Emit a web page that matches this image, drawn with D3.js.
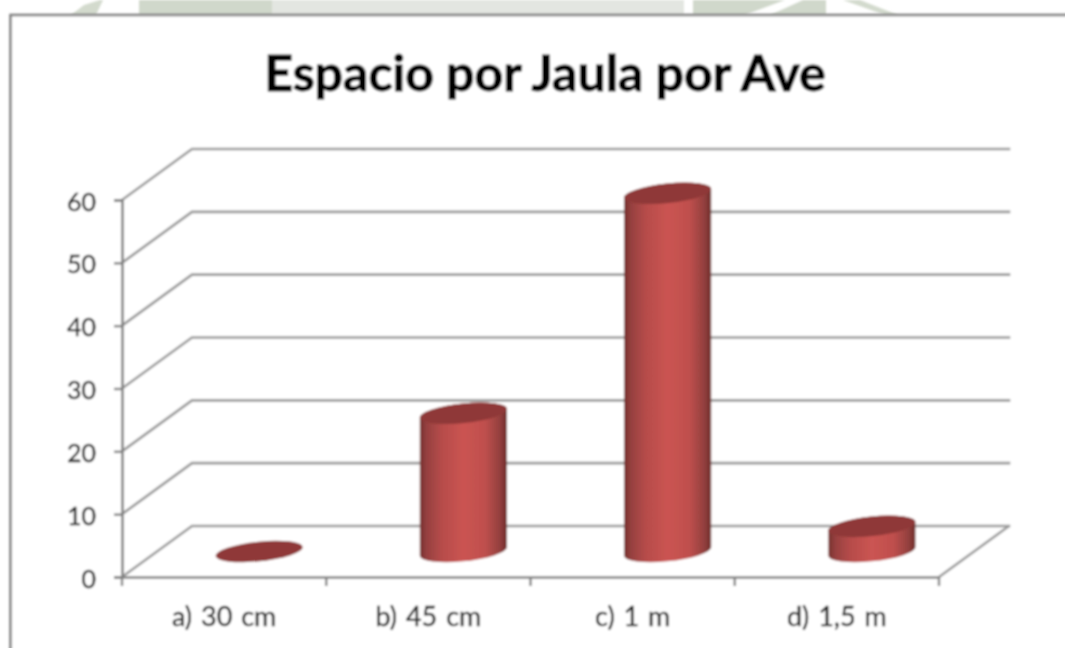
<!DOCTYPE html>
<html>
<head>
<meta charset="utf-8">
<script src="https://cdn.jsdelivr.net/npm/d3@7"></script>
<style>
  html, body { margin: 0; padding: 0; background: #fff; overflow: hidden; }
  svg { display: block; }
  text { font-family: Lato, "Open Sans", sans-serif; }
</style>
</head>
<body>
<div id="chart"></div>
<script>
const categories = ["a) 30 cm", "b) 45 cm", "c) 1 m", "d) 1,5 m"];
const values = [0, 22, 57, 4];
const yTicks = [0, 10, 20, 30, 40, 50, 60];
const title = "Espacio por Jaula por Ave";

const width = 1065;
const height = 648;

// plot front plane, and how far the back wall is shifted from it
const left = 122, right = 939, bottom = 577, top_ = 200;
const depthX = 70, depthY = -51;

const xScale = d3.scaleBand().domain(categories).range([left, right]);
const yScale = d3.scaleLinear().domain([0, 60]).range([bottom, top_]);

const svg = d3.select("#chart").append("svg")
    .attr("width", width).attr("height", height)
    .attr("viewBox", "0 0 " + width + " " + height);

const defs = svg.append("defs");

// the reference is a soft scan, everything is slightly out of focus
defs.append("filter").attr("id", "soft")
    .attr("filterUnits", "userSpaceOnUse")
    .attr("x", 0).attr("y", 0).attr("width", width).attr("height", height)
    .append("feGaussianBlur").attr("stdDeviation", 0.85);

const grad = defs.append("linearGradient").attr("id", "cyl")
    .attr("x1", 0).attr("x2", 1).attr("y1", 0).attr("y2", 0);
grad.append("stop").attr("offset", "0%").attr("stop-color", "#75302d");
grad.append("stop").attr("offset", "8%").attr("stop-color", "#964040");
grad.append("stop").attr("offset", "25%").attr("stop-color", "#b64c4a");
grad.append("stop").attr("offset", "50%").attr("stop-color", "#cb5452");
grad.append("stop").attr("offset", "75%").attr("stop-color", "#bf4f4d");
grad.append("stop").attr("offset", "92%").attr("stop-color", "#93403e");
grad.append("stop").attr("offset", "100%").attr("stop-color", "#6e2c2a");

// watermark showing above the chart frame
const wm = svg.append("g").attr("filter", "url(#soft)");
wm.append("path").attr("fill", "#d3dacd").attr("d", "M71,15 L84,5 L100,0 L103,0 L96,15 Z");
wm.append("rect").attr("x", 139).attr("y", 0).attr("width", 133).attr("height", 15).attr("fill", "#d0d8cb");
wm.append("rect").attr("x", 272).attr("y", 0).attr("width", 412).attr("height", 15).attr("fill", "#e3e6e1");
wm.append("rect").attr("x", 693).attr("y", 0).attr("width", 133).attr("height", 15).attr("fill", "#d0d8cb");
wm.append("path").attr("fill", "#fff").attr("d", "M745,15 L785,0 L803,0 L770,15 Z");
wm.append("path").attr("fill", "#d3dacd").attr("d", "M843,0 L860,0 L898,15 L885,15 Z");

const chart = svg.append("g").attr("filter", "url(#soft)");

// chart frame runs off the right and bottom of the picture
chart.append("rect").attr("x", 10.5).attr("y", 15).attr("width", width).attr("height", height)
    .attr("fill", "#fff").attr("stroke", "#808080").attr("stroke-width", 2.6);

// gridlines: diagonal on the side wall, then flat on the back wall
const gridLine = d3.line();
chart.append("g").selectAll("path")
    .data(yTicks)
    .enter()
    .append("path")
    .attr("fill", "none")
    .attr("stroke", "#999")
    .attr("stroke-width", 2.6)
    .attr("stroke-linecap", "square")
    .attr("d", (d) => gridLine([
        [left, yScale(d)],
        [left + depthX, yScale(d) + depthY],
        [right + depthX, yScale(d) + depthY]
    ]));

// floor right edge
chart.append("path").attr("fill", "none").attr("stroke", "#999").attr("stroke-width", 2.6)
    .attr("d", gridLine([
        [right, yScale(0)],
        [right + depthX, yScale(0) + depthY]
    ]));

// axes
const yAxis = d3.axisLeft(yScale).tickValues(yTicks).tickSize(8).tickPadding(18);
const xAxis = d3.axisBottom(xScale).tickSize(0).tickPadding(30);

const yG = chart.append("g").attr("transform", "translate(" + left + ",0)").call(yAxis);
const xG = chart.append("g").attr("transform", "translate(0," + bottom + ")").call(xAxis);

// x ticks sit on the category boundaries
const edges = categories.map((c) => xScale(c)).concat([right]);
xG.selectAll("line.edge")
    .data(edges)
    .enter()
    .append("line")
    .attr("class", "edge")
    .attr("x1", (d) => d).attr("x2", (d) => d)
    .attr("y1", 0).attr("y2", 9);

[yG, xG].forEach((g) => {
    g.selectAll("path.domain").attr("stroke", "#808080").attr("stroke-width", 2.6);
    g.selectAll("line").attr("stroke", "#808080").attr("stroke-width", 2.4);
    g.selectAll("text").attr("font-family", "Lato, sans-serif")
        .attr("fill", "#222").attr("stroke", "#222").attr("stroke-width", 0.35);
});
yG.selectAll("text").attr("font-size", 25).attr("dy", "0.4em");
xG.selectAll("text").attr("font-size", 27).attr("word-spacing", 2);

// cylinders: tilted ellipse for the top and the base, vertical sides between
const rx = 43.8, ry = 9.8, tilt = -6;
const rad = tilt * Math.PI / 180;
const halfW = Math.sqrt(rx * rx * Math.cos(rad) ** 2 + ry * ry * Math.sin(rad) ** 2);
// y offset of the point of the ellipse furthest to the right
const sideDy = (rx * rx - ry * ry) * Math.sin(rad) * Math.cos(rad) / halfW;

const cx = (d) => xScale(d.cat) + xScale.bandwidth() / 2 + depthX / 2;
const baseY = yScale(0) + depthY / 2;
const topY = (d) => yScale(d.val) + depthY / 2;

const arc = (x, y, sweep) => "A" + rx + "," + ry + " " + tilt + " 0 " + sweep + " " + x + "," + y;

const rows = categories.map((c, i) => ({ cat: c, val: values[i] }));

const bars = chart.append("g").selectAll("g")
    .data(rows)
    .enter()
    .append("g");

bars.filter((d) => d.val > 0)
    .append("path")
    .attr("fill", "url(#cyl)")
    .attr("d", (d) => {
        const c = cx(d);
        return "M" + (c - halfW) + "," + (topY(d) - sideDy) +
            "L" + (c - halfW) + "," + (baseY - sideDy) +
            arc(c + halfW, baseY + sideDy, 0) +
            "L" + (c + halfW) + "," + (topY(d) + sideDy) +
            arc(c - halfW, topY(d) - sideDy, 0) + "Z";
    });

bars.append("ellipse")
    .attr("rx", rx).attr("ry", ry)
    .attr("fill", "#8f3937")
    .attr("transform", (d) => "translate(" + cx(d) + "," + topY(d) + ") rotate(" + tilt + ")");

// title
chart.append("text")
    .attr("x", 545).attr("y", 91)
    .attr("text-anchor", "middle")
    .attr("font-size", 50)
    .attr("font-weight", 700)
    .attr("fill", "#000")
    .attr("stroke", "#000")
    .attr("stroke-width", 0.9)
    .text(title);
</script>
</body>
</html>
